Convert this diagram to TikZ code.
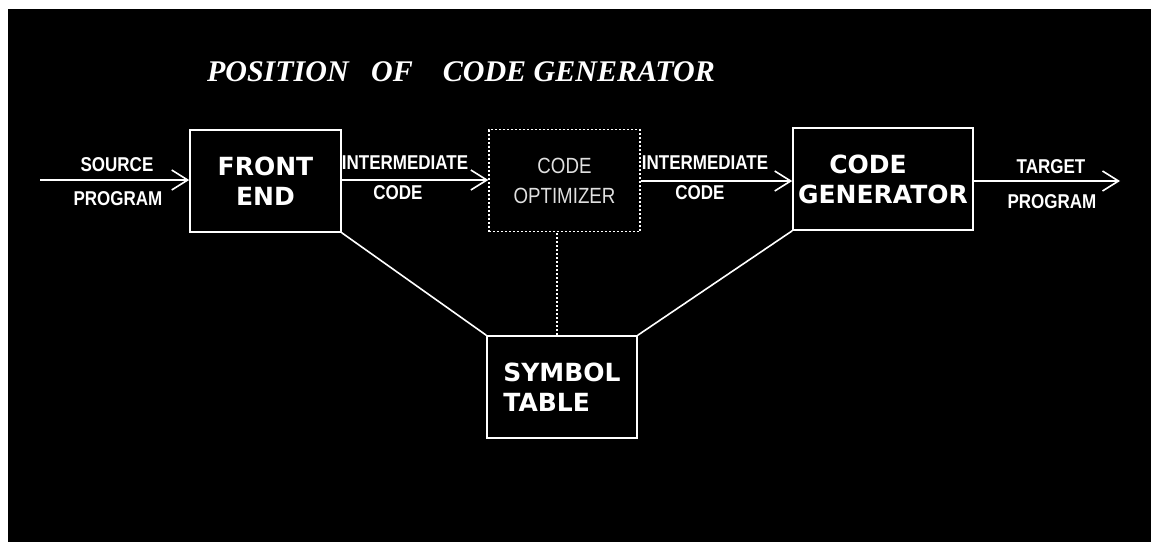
\documentclass[tikz,border=0pt]{standalone}
\usepackage{fontspec}
\usetikzlibrary{arrows.meta}

\newfontfamily\titlefont{Liberation Serif}
\newfontfamily\boxfont{DejaVu Sans}
\newfontfamily\labfont[FakeStretch=0.85]{Liberation Sans}

\begin{document}
\begin{tikzpicture}[x=1pt,y=-1pt,
  box/.style={draw=white, line width=1.6pt, minimum width=151pt, minimum height=102pt,
    text=white, align=center, font=\boxfont\bfseries\fontsize{25}{30}\selectfont},
  lab/.style={text=white, inner sep=0pt, font=\labfont\bfseries\fontsize{20}{22}\selectfont},
  link/.style={draw=white, line width=1.6pt},
  flow/.style={link, -{Straight Barb[length=16pt,width=20pt,line width=1.6pt]}}]

  \useasboundingbox[fill=white] (0,0) rectangle (1151,542);
  \fill[black] (8,9) rectangle (1151,542);

  \node[text=white, font=\titlefont\bfseries\itshape\fontsize{30}{36}\selectfont] (title) at (461,72)
    {POSITION\ \ \ OF\ \ \ \ CODE GENERATOR};

  % boxes
  \node[box] (fe) at (265.5,181) {FRONT\\END};
  \node[box, dash pattern=on 2pt off 2pt, line width=1.3pt, text=white!88!black,
    font=\labfont\fontsize{22}{30}\selectfont] (opt) at (564.5,180.5) {CODE\\OPTIMIZER};
  \node[box, minimum width=180pt] (cg) at (883,179) {CODE\hspace*{30pt}\\GENERATOR};
  \node[box, minimum width=150pt, align=left] (st) at (562,387) {SYMBOL\\TABLE};

  \coordinate (in) at (40,180);
  \coordinate (out) at (1120,181);

  % flow of the program
  \draw[flow] (in) -- (fe.west |- in);
  \draw[flow] (fe.east |- in) -- (opt.west |- in);
  \draw[flow] (opt.east |- out) -- (cg.west |- out);
  \draw[flow] (cg.east |- out) -- (out);

  \node[lab] (src1) at (117,165) {SOURCE};
  \node[lab] (src2) at (118,199) {PROGRAM};
  \node[lab] (ic1) at (405,163) {INTERMEDIATE};
  \node[lab] (ic2) at (398,193) {CODE};
  \node[lab] (ic3) at (705,163) {INTERMEDIATE};
  \node[lab] (ic4) at (700,193) {CODE};
  \node[lab] (tp1) at (1051,167) {TARGET};
  \node[lab] (tp2) at (1052,202) {PROGRAM};

  % links to the symbol table
  \draw[link] (fe.south east) -- (st.north west);
  \draw[link] (cg.south west) -- (st.north east);
  \draw[link, line width=1.2pt, dash pattern=on 2pt off 2pt] (st.north -| 557,0) -- (557,0 |- opt.south);
\end{tikzpicture}
\end{document}
